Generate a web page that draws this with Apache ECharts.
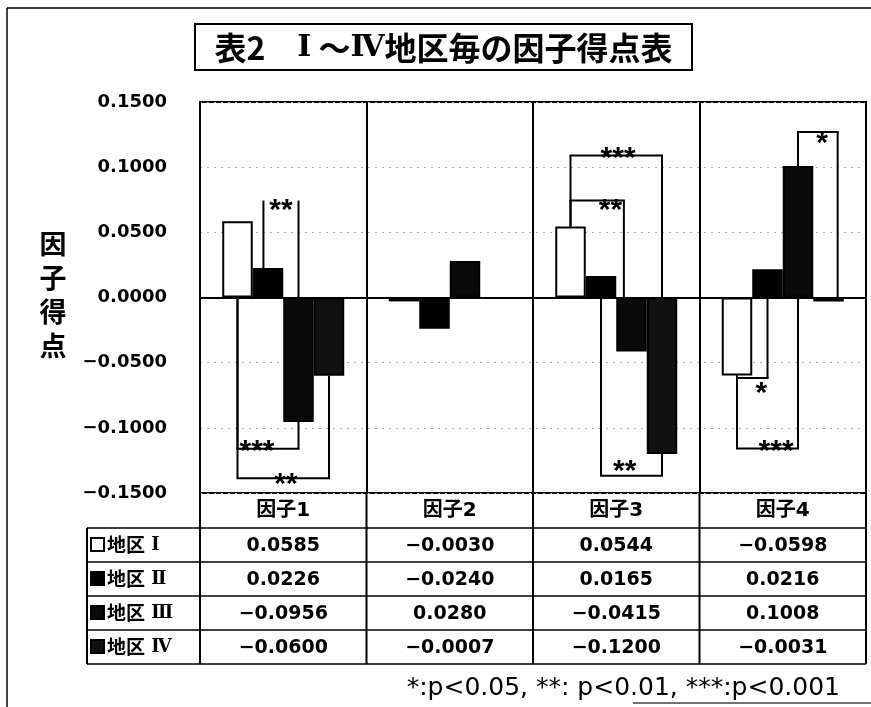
<!DOCTYPE html>
<html><head><meta charset="utf-8">
<script src="https://cdn.jsdelivr.net/npm/echarts@6/dist/echarts.min.js"></script>
<style>html,body{margin:0;padding:0;background:#fff}#c{width:871px;height:707px}</style>
</head><body><div id="c"></div>
<script>
// ---------- data ----------
const TITLE_PARTS = ['表2　', 'Ⅰ', '～', 'Ⅳ', '地区毎の因子得点表'];
const Y_NAME = ['因', '子', '得', '点'];
const FACTORS = ['因子1', '因子2', '因子3', '因子4'];
const REGION_WORD = '地区';
const REGION_NUMS = ['Ⅰ', 'Ⅱ', 'Ⅲ', 'Ⅳ'];
const REGION_1 = [0.0585, -0.0030, 0.0544, -0.0598];
const REGION_2 = [0.0226, -0.0240, 0.0165, 0.0216];
const REGION_3 = [-0.0956, 0.0280, -0.0415, 0.1008];
const REGION_4 = [-0.0600, -0.0007, -0.1200, -0.0031];
const Y_MIN = -0.15, Y_MAX = 0.15, Y_STEP = 0.05;
const FOOTNOTE = '*:p<0.05, **: p<0.01, ***:p<0.001';
// significance comparisons: factor index, region a, region b, mark
const BRACKETS = [
  { f: 0, a: 1, b: 2, label: '**' },
  { f: 0, a: 0, b: 2, label: '***' },
  { f: 0, a: 0, b: 3, label: '**' },
  { f: 2, a: 0, b: 3, label: '***' },
  { f: 2, a: 0, b: 2, label: '**' },
  { f: 2, a: 1, b: 3, label: '**' },
  { f: 3, a: 2, b: 3, label: '*' },
  { f: 3, a: 0, b: 1, label: '*' },
  { f: 3, a: 0, b: 2, label: '***' }
];
// bracket geometry (layout): leg positions in bar slots, level & label placement in axis units
const BRACKET_GEOM = [
  { ka: 0.85, kb: 2, level: 0.0744, t: 0.5, lv: 0.0706, line: false },
  { ka: 0, kb: 2, level: -0.116, t: 0.32, lv: -0.1145 },
  { ka: 0, kb: 3, level: -0.1387, t: 0.53, lv: -0.140 },
  { ka: 0, kb: 3, level: 0.109, t: 0.52, lv: 0.1104 },
  { ka: 0, kb: 1.75, level: 0.0744, t: 0.75, lv: 0.0706 },
  { ka: 1, kb: 3, level: -0.1367, t: 0.39, lv: -0.130 },
  { ka: 2, kb: 3.3, level: 0.127, t: 0.61, lv: 0.122 },
  { ka: 0, kb: 1, level: -0.0618, t: 0.8, lv: -0.070 },
  { ka: 0, kb: 2, level: -0.1158, t: 0.64, lv: -0.1145 }
];
const SERIES = [REGION_1, REGION_2, REGION_3, REGION_4];

// ---------- styles ----------
const NUM_FONT = '"DejaVu Sans", "Noto Sans CJK JP", sans-serif';
const CJK_FONT = '"Noto Sans CJK JP", "DejaVu Sans", sans-serif';
const ROMAN_FONT = '"DejaVu Serif", "Liberation Serif", "Noto Sans CJK JP", serif';
const FILLS = ['#ffffff', '#000000', '#0a0a0a', '#111111'];
const BAR_W = 30.5;
const GRID = { left: 200, right: 5, top: 102, bottom: 214 };
const HEADER_BOTTOM = 528, ROW_H = 34, TABLE_LEFT = 87;

const fmt = v => { if (Math.abs(v) < 1e-9) v = 0; return (v < 0 ? '−' : '') + Math.abs(v).toFixed(4); };

const chart = echarts.init(document.getElementById('c'), null, { renderer: 'canvas' });
const option = {
  animation: false,
  backgroundColor: '#fff',
  grid: Object.assign({ show: true, borderColor: '#000', borderWidth: 2, backgroundColor: 'transparent' }, GRID),
  xAxis: {
    type: 'category', data: FACTORS,
    axisLine: { show: false, onZero: false },
    axisTick: { show: false },
    axisLabel: { margin: 8, color: '#000', fontSize: 20, fontWeight: 'bold', fontFamily: NUM_FONT },
    splitLine: { show: true, lineStyle: { color: '#000', width: 2 } }
  },
  yAxis: {
    type: 'value', min: Y_MIN, max: Y_MAX, interval: Y_STEP,
    axisLine: { show: true, lineStyle: { color: '#000', width: 2 } },
    axisTick: { show: false },
    axisLabel: { margin: 33, color: '#000', fontSize: 18, fontWeight: 'bold', fontFamily: NUM_FONT, formatter: fmt },
    splitLine: { show: true, lineStyle: { color: '#aaa', width: 1, type: [2, 5] } }
  },
  series: SERIES.map((d, i) => ({
    type: 'bar', name: REGION_WORD + REGION_NUMS[i], data: d,
    barWidth: BAR_W, barGap: '0%',
    itemStyle: { color: FILLS[i], borderColor: '#000', borderWidth: 2 },
    markLine: i === 0 ? {
      silent: true, symbol: ['none', 'none'], label: { show: false },
      lineStyle: { color: '#000', width: 2, type: 'solid' },
      data: [{ yAxis: 0 }]
    } : undefined
  }))
};
chart.setOption(option);

// ---------- annotations & table ----------
const px = (c, v) => chart.convertToPixel({ xAxisIndex: 0, yAxisIndex: 0 }, [c, v]);
const catW = px(1, 0)[0] - px(0, 0)[0];
const cx = i => px(i, 0)[0];
const yOf = v => px(0, v)[1];
const slotX = (f, k) => cx(f) + (k - 1.5) * BAR_W;
const G = [];
const line = (x1, y1, x2, y2, w, c) => G.push({ type: 'line', shape: { x1, y1, x2, y2 }, style: { stroke: c || '#000', lineWidth: w || 2 }, z: 100 });
const text = (x, y, s, font, align, extra) => G.push({ type: 'text', z: 101, style: Object.assign({ x, y, text: s, font, fill: '#000', align: align || 'center', verticalAlign: 'middle' }, extra || {}) });

// outer frame
line(7, 8, 871, 8, 1.5);
line(7, 8, 7, 707, 1.5);
line(633, 703, 871, 703, 1.5, '#444');

// title
G.push({ type: 'rect', shape: { x: 195, y: 24, width: 497, height: 46 }, style: { fill: 'none', stroke: '#000', lineWidth: 2 }, z: 100 });
text(443.5, 48,
  '{c|' + TITLE_PARTS[0] + '}{r|' + TITLE_PARTS[1] + '}{c| ' + TITLE_PARTS[2] + '}{r|' + TITLE_PARTS[3] + '}{c|' + TITLE_PARTS[4] + '}',
  'bold 32px ' + CJK_FONT, 'center', {
    rich: {
      c: { fontSize: 32, fontWeight: 'bold', fontFamily: CJK_FONT, fill: '#000' },
      r: { fontSize: 30, fontWeight: 'bold', fontFamily: ROMAN_FONT, fill: '#000' }
    }
  });

// y name
text(53, 295, Y_NAME.join('\n'), 'bold 27px ' + CJK_FONT, 'center', { lineHeight: 34 });

// brackets
BRACKETS.forEach((b, i) => {
  const g = BRACKET_GEOM[i];
  const va = SERIES[b.a][b.f], vb = SERIES[b.b][b.f];
  const up = g.level > 0;
  const sa = up ? Math.max(va, 0) : Math.min(va, 0);
  const sb = up ? Math.max(vb, 0) : Math.min(vb, 0);
  const xa = slotX(b.f, g.ka), xb = slotX(b.f, g.kb);
  const yl = yOf(g.level);
  line(xa, yOf(sa), xa, yl);
  line(xb, yOf(sb), xb, yl);
  if (g.line !== false) line(xa - 1, yl, xb + 1, yl);
  text(xa + (xb - xa) * g.t, yOf(g.lv) + 5, b.label, 'bold 30px "Liberation Sans", sans-serif');
});

// table
const tableTop = yOf(Y_MIN);
const tableBottom = HEADER_BOTTOM + ROW_H * REGION_NUMS.length;
for (let i = 0; i <= FACTORS.length; i++) {
  const x = cx(0) - catW / 2 + i * catW;
  line(x, tableTop, x, tableBottom, 2);
}
const tableRight = cx(0) - catW / 2 + FACTORS.length * catW;
line(TABLE_LEFT, HEADER_BOTTOM, TABLE_LEFT, tableBottom, 2);
for (let r = 0; r <= REGION_NUMS.length; r++) {
  const y = HEADER_BOTTOM + r * ROW_H;
  line(TABLE_LEFT, y, tableRight, y, 1.5);
}
REGION_NUMS.forEach((num, r) => {
  const yc = HEADER_BOTTOM + r * ROW_H + ROW_H / 2;
  G.push({ type: 'rect', z: 101, shape: { x: 91, y: yc - 7, width: 13, height: 13 }, style: { fill: FILLS[r], stroke: '#000', lineWidth: 2 } });
  text(107, yc, '{c|' + REGION_WORD + '}{r| ' + num + '}', 'bold 19px ' + CJK_FONT, 'left', {
    rich: {
      c: { fontSize: 19, fontWeight: 'bold', fontFamily: CJK_FONT, fill: '#000' },
      r: { fontSize: 18, fontWeight: 'bold', fontFamily: ROMAN_FONT, fill: '#000' }
    }
  });
  SERIES[r].forEach((v, f) => text(cx(f), yc + 1, fmt(v), 'bold 19px ' + NUM_FONT));
});

// footnote
text(840, 688, FOOTNOTE, '25px "DejaVu Sans", sans-serif', 'right');

chart.setOption({ graphic: { elements: G } });
</script>
</body></html>
